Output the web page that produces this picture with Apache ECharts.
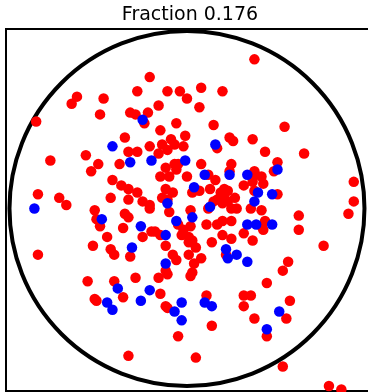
<!DOCTYPE html>
<html>
<head>
<meta charset="utf-8">
<script src="https://cdn.jsdelivr.net/npm/echarts@6/dist/echarts.min.js"></script>
<style>
  html, body { margin: 0; padding: 0; background: #fff; }
  #chart { width: 368px; height: 392px; }
</style>
</head>
<body>
<div id="chart"></div>
<script>
const titleText = 'Fraction 0.176';

// points inside the unit circle (x, y)
const redX = [-0.62, -0.65, -0.47, -0.49, -0.85, -0.32, -0.35, -0.33, -0.57, 0.38,
  -0.21, -0.28, -0.11, -0.04, 0.08, 0.00, 0.20, 0.07, -0.16, -0.29,
  -0.22, -0.24, -0.06, 0.15, -0.15, -0.01, -0.09, 0.24, 0.26, 0.37,
  0.17, -0.14, -0.07, -0.02, -0.21, -0.11, -0.28, 0.55, 0.44, 0.66,
  -0.77, -0.50, -0.54, -0.38, -0.42, -0.37, -0.33, -0.84, -0.72, -0.68,
  -0.43, -0.33, -0.52, -0.51, -0.49, -0.35, -0.33, -0.36, -0.45, -0.53,
  -0.43, -0.41, -0.32, -0.84, -0.16, -0.07, -0.05, -0.12, -0.06, 0.08,
  0.25, 0.12, 0.24, 0.38, -0.15, -0.10, 0.00, 0.16, 0.32, 0.37,
  0.07, 0.03, 0.13, 0.21, 0.23, -0.28, -0.12, -0.08, -0.14, -0.11,
  -0.25, -0.21, -0.21, -0.10, 0.17, 0.19, 0.21, 0.15, 0.20, 0.23,
  0.27, 0.12, 0.02, 0.25, 0.28, -0.05, 0.02, 0.11, 0.20, 0.25,
  0.17, -0.20, -0.18, -0.02, -0.03, 0.01, -0.15, -0.25, -0.12, 0.01,
  0.03, 0.05, 0.14, 0.20, 0.25, 0.32, -0.08, -0.06, 0.01, 0.04,
  0.08, 0.22, -0.12, 0.03, 0.51, 0.49, 0.42, 0.43, 0.38, 0.51,
  0.94, 0.94, 0.91, 0.63, 0.42, 0.36, 0.63, 0.44, 0.42, 0.43,
  0.77, 0.37, 0.57, 0.54, 0.37, -0.56, -0.41, -0.52, -0.51, -0.36,
  -0.33, -0.29, -0.11, -0.16, 0.02, -0.15, -0.12, -0.11, 0.11, 0.32,
  0.36, 0.32, 0.38, 0.14, -0.05, 0.05, 0.45, 0.58, 0.56, 0.45,
  0.54, 0.80, 0.87];
const redY = [0.63, 0.59, 0.62, 0.53, 0.49, 0.54, 0.40, 0.32, 0.30, 0.84,
  0.74, 0.66, 0.66, 0.66, 0.68, 0.62, 0.66, 0.57, 0.58, 0.53,
  0.54, 0.48, 0.48, 0.47, 0.44, 0.41, 0.39, 0.40, 0.38, 0.39,
  0.34, 0.36, 0.36, 0.35, 0.35, 0.33, 0.32, 0.46, 0.32, 0.31,
  0.27, 0.25, 0.21, 0.25, 0.16, 0.13, 0.11, 0.08, 0.06, 0.02,
  0.06, 0.05, -0.01, -0.06, -0.10, -0.03, -0.05, -0.11, -0.16, -0.21,
  -0.23, -0.26, -0.27, -0.26, 0.31, 0.25, 0.25, 0.23, 0.22, 0.25,
  0.25, 0.19, 0.21, 0.21, 0.18, 0.18, 0.18, 0.16, 0.13, 0.15,
  0.10, 0.09, 0.11, 0.11, 0.10, 0.09, 0.11, 0.09, 0.06, 0.05,
  0.04, 0.02, 0.00, -0.02, 0.05, 0.09, 0.07, 0.04, 0.03, 0.04,
  0.06, 0.00, -0.01, 0.00, 0.00, -0.09, -0.10, -0.09, -0.07, -0.07,
  -0.09, -0.13, -0.13, -0.12, -0.15, -0.16, -0.15, -0.16, -0.21, -0.19,
  -0.18, -0.22, -0.19, -0.15, -0.17, -0.14, -0.26, -0.29, -0.26, -0.31,
  -0.28, -0.26, -0.35, -0.36, 0.26, 0.21, 0.18, 0.14, 0.10, 0.08,
  0.15, 0.04, -0.03, -0.04, -0.01, 0.00, -0.12, -0.07, -0.10, -0.12,
  -0.21, -0.18, -0.30, -0.35, 0.17, -0.41, -0.41, -0.51, -0.52, -0.50,
  -0.83, -0.39, -0.37, -0.39, -0.38, -0.48, -0.55, -0.56, -0.49, -0.49,
  -0.49, -0.55, -0.62, -0.66, -0.72, -0.84, -0.42, -0.52, -0.62, -0.72,
  -0.89, -1.00, -1.02];

const blueX = [-0.42, -0.25, 0.16, -0.32, -0.20, -0.01, 0.10, 0.24, 0.34, 0.04,
  -0.11, 0.13, 0.03, -0.06, -0.26, -0.12, -0.31, 0.22, 0.23, 0.28,
  0.34, -0.12, 0.38, -0.86, -0.48, 0.51, 0.40, 0.48, 0.39, 0.34,
  0.48, -0.39, -0.45, -0.42, -0.21, -0.26, -0.03, -0.07, -0.03, 0.10,
  0.14, 0.52, 0.45];
const blueY = [0.35, 0.50, 0.36, 0.26, 0.27, 0.27, 0.19, 0.19, 0.19, 0.12,
  0.03, 0.01, -0.05, -0.07, -0.10, -0.15, -0.22, -0.23, -0.28, -0.26,
  -0.30, -0.31, 0.04, 0.00, -0.06, 0.22, 0.09, 0.08, -0.09, -0.09,
  -0.09, -0.45, -0.53, -0.57, -0.46, -0.52, -0.53, -0.58, -0.63, -0.53,
  -0.55, -0.58, -0.68];

const circleCenter = [[0, 0]];

const pairs = (xs, ys) => xs.map((x, i) => [x, ys[i]]);

const chartDom = document.getElementById('chart');
const myChart = echarts.init(chartDom, undefined, { renderer: 'canvas' });

let option = {
  animation: false,
  title: {
    text: titleText,
    left: 185,
    textAlign: 'center',
    top: 1,
    textStyle: {
      fontFamily: 'DejaVu Sans',
      fontSize: 19,
      fontWeight: 'normal',
      color: '#000'
    }
  },
  grid: {
    left: 6,
    top: 29,
    width: 368,
    height: 362,
    outerBoundsMode: 'none',
    show: true,
    borderColor: '#000',
    borderWidth: 2,
    backgroundColor: '#fff'
  },
  xAxis: { type: 'value', min: -1.02, max: 1.054, show: false },
  yAxis: { type: 'value', min: -1.028, max: 1.011, show: false },
  series: [
    {
      // the unit circle outline
      type: 'scatter',
      data: circleCenter,
      symbol: 'circle',
      symbolSize: 355,
      silent: true,
      z: 1,
      itemStyle: { color: 'rgba(0,0,0,0)', borderColor: '#000', borderWidth: 4, opacity: 1 }
    },
    {
      type: 'scatter',
      data: pairs(redX, redY),
      symbolSize: 10.5,
      z: 2,
      itemStyle: { color: '#ff0000', opacity: 1 }
    },
    {
      type: 'scatter',
      data: pairs(blueX, blueY),
      symbolSize: 10.5,
      z: 3,
      itemStyle: { color: '#0000ff', opacity: 1 }
    }
  ]
};

myChart.setOption(option);
</script>
</body>
</html>
